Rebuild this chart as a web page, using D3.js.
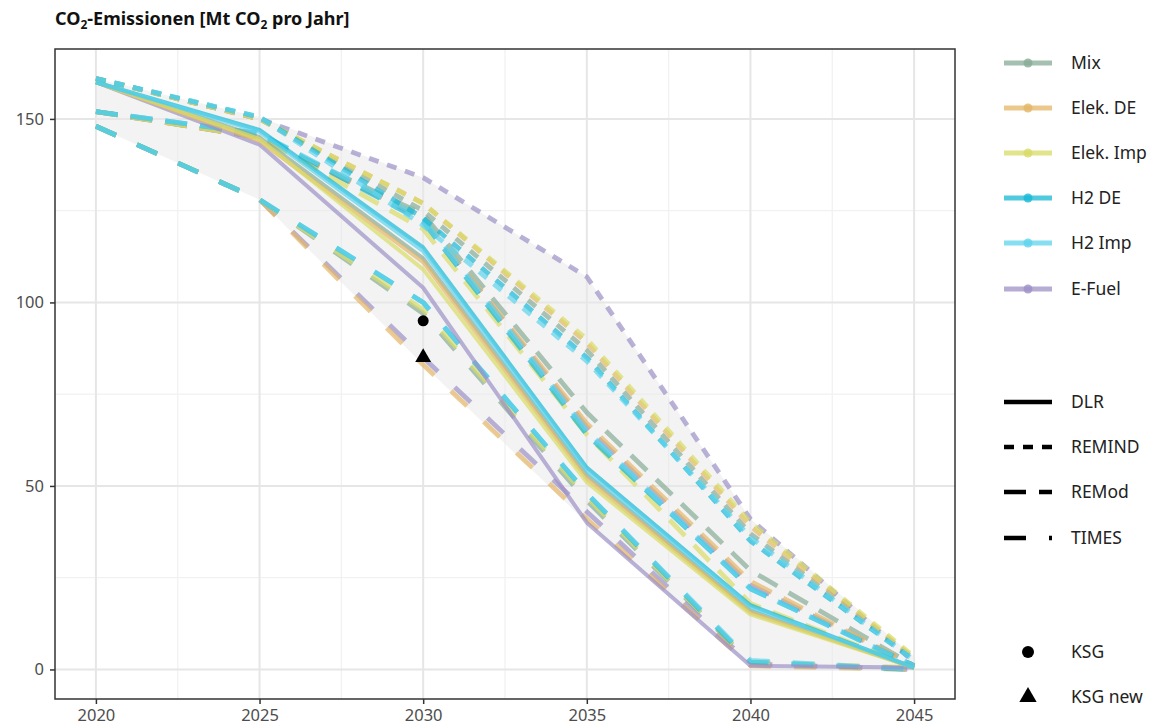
<!DOCTYPE html>
<html>
<head>
<meta charset="utf-8">
<script src="https://cdn.jsdelivr.net/npm/d3@7"></script>
<style>
  html, body { margin: 0; padding: 0; background: #fff; }
  svg { display: block; font-family: "Noto Sans", "Open Sans", sans-serif; }
</style>
</head>
<body>
<svg id="chart" width="1157" height="728"></svg>
<script>
// ---------------- data ----------------
const years = [2020, 2025, 2030, 2035, 2040, 2045];
const sectors = ["Mix", "Elek. DE", "Elek. Imp", "H2 DE", "H2 Imp", "E-Fuel"];
const sectorColors = ["#86ab96", "#e4b766", "#d8db66", "#17b8d6", "#5dd3ec", "#9d90c6"];
const models = ["DLR", "REMIND", "REMod", "TIMES"];
const modelDashes = [null, "10,9", "22,13", "22,23"];

// values per sector, order as in `sectors`
const dlrValues = [
  [160, 145, 112, 53, 16, 0.5],
  [160, 144, 111, 52, 15.5, 0.5],
  [160, 144.5, 109, 51, 15, 0.5],
  [160, 147, 115, 55, 17.5, 0.5],
  [160, 146.5, 114, 54, 17, 0.5],
  [160, 143, 104, 40, 1, 0.5]
];
const remindValues = [
  [161, 150, 125, 87, 37, 3],
  [161, 150, 127, 89, 39, 3],
  [161, 150, 127, 90, 40, 3.5],
  [161, 150.5, 123, 85, 35, 2.5],
  [161, 150.5, 121, 84, 36, 2.5],
  [161, 150, 134, 107, 41, 2]
];
const remodValues = [
  [152, 145, 124, 70, 27, 1],
  [152, 145, 123, 67, 24, 1],
  [152, 145, 120, 64, 18, 0.5],
  [152, 146, 122, 64, 22, 1],
  [152, 146, 123, 65, 22, 1],
  [152, 145, 123, 66, 23, 1]
];
const timesValues = [
  [148, 128, 97, 46, 2, 0],
  [148, 128, 83, 41, 1, 0],
  [148, 128, 98, 47, 2, 0.5],
  [148, 128, 100, 48, 2, 0],
  [148, 128, 100, 48, 2.5, 0],
  [148, 128, 85, 43, 1.5, 0]
];
const modelValues = [dlrValues, remindValues, remodValues, timesValues];

const ksgPoint = [2030, 95];
const ksgNewPoint = [2030, 85];

const xTicks = [2020, 2025, 2030, 2035, 2040, 2045];
const xMinor = [2022.5, 2027.5, 2032.5, 2037.5, 2042.5];
const yTicks = [0, 50, 100, 150];
const yMinor = [25, 75, 125];

// ---------------- layout ----------------
const svg = d3.select("#chart");
const panel = { left: 55, right: 955, top: 49, bottom: 699 };

const allVals = modelValues.flat(2);
const vMin = Math.min(0, d3.min(allVals)), vMax = d3.max(allVals);
const pad = (vMax - vMin) * 0.05;
const x = d3.scaleLinear().domain([2018.75, 2046.25]).range([panel.left, panel.right]);
const y = d3.scaleLinear().domain([vMin - pad, vMax + pad]).range([panel.bottom, panel.top]);

// title
const title = svg.append("text")
  .attr("x", 55).attr("y", 25)
  .attr("font-size", 18).attr("font-weight", "bold").attr("fill", "#111");
title.append("tspan").text("CO");
title.append("tspan").attr("font-size", 12).attr("dy", 4).text("2");
title.append("tspan").attr("dy", -4).text("-Emissionen [Mt CO");
title.append("tspan").attr("font-size", 12).attr("dy", 4).text("2");
title.append("tspan").attr("dy", -4).text(" pro Jahr]");

// grid
const g = svg.append("g");
g.selectAll(".ymin").data(yMinor).join("line")
  .attr("x1", panel.left).attr("x2", panel.right)
  .attr("y1", d => y(d)).attr("y2", d => y(d))
  .attr("stroke", "#f1f1f1").attr("stroke-width", 1.3);
g.selectAll(".xmin").data(xMinor).join("line")
  .attr("y1", panel.top).attr("y2", panel.bottom)
  .attr("x1", d => x(d)).attr("x2", d => x(d))
  .attr("stroke", "#f1f1f1").attr("stroke-width", 1.3);
g.selectAll(".ymaj").data(yTicks).join("line")
  .attr("x1", panel.left).attr("x2", panel.right)
  .attr("y1", d => y(d)).attr("y2", d => y(d))
  .attr("stroke", "#e6e6e6").attr("stroke-width", 2);
g.selectAll(".xmaj").data(xTicks).join("line")
  .attr("y1", panel.top).attr("y2", panel.bottom)
  .attr("x1", d => x(d)).attr("x2", d => x(d))
  .attr("stroke", "#e6e6e6").attr("stroke-width", 2);

// ribbon (envelope of all scenarios)
const envelope = years.map((yr, i) => {
  const vals = modelValues.flatMap(m => m.map(s => s[i]));
  return { yr, lo: d3.min(vals), hi: d3.max(vals) };
});
svg.append("path").datum(envelope)
  .attr("d", d3.area().x(d => x(d.yr)).y0(d => y(d.lo)).y1(d => y(d.hi)))
  .attr("fill", "#e8e8e8").attr("fill-opacity", 0.5);

// lines
const line = d3.line().x((d, i) => x(years[i])).y(d => y(d));
const drawOrder = [5, 0, 1, 2, 3, 4];
const drawModels = [3, 2, 1, 0];
drawModels.forEach(mi => {
  drawOrder.forEach(si => {
    svg.append("path").datum(modelValues[mi][si])
      .attr("d", line)
      .attr("fill", "none")
      .attr("stroke", sectorColors[si])
      .attr("stroke-opacity", 0.7)
      .attr("stroke-width", mi === 0 ? 4 : 4.8)
      .attr("stroke-linecap", "butt")
      .attr("stroke-linejoin", "round")
      .attr("stroke-dasharray", modelDashes[mi]);
  });
});

// KSG markers
svg.append("circle").attr("cx", x(ksgPoint[0])).attr("cy", y(ksgPoint[1])).attr("r", 5.5).attr("fill", "#000");
svg.append("path")
  .attr("transform", `translate(${x(ksgNewPoint[0])},${y(ksgNewPoint[1])})`)
  .attr("d", d3.symbol(d3.symbolTriangle, 110)()).attr("fill", "#000");

// panel border
svg.append("rect")
  .attr("x", panel.left).attr("y", panel.top)
  .attr("width", panel.right - panel.left).attr("height", panel.bottom - panel.top)
  .attr("fill", "none").attr("stroke", "#333").attr("stroke-width", 1.5);

// axes
const xAxis = svg.append("g").attr("transform", `translate(0,${panel.bottom})`)
  .call(d3.axisBottom(x).tickValues(xTicks).tickFormat(d3.format("d")).tickSize(5).tickPadding(5));
const yAxis = svg.append("g").attr("transform", `translate(${panel.left},0)`)
  .call(d3.axisLeft(y).tickValues(yTicks).tickSize(5).tickPadding(6));
[xAxis, yAxis].forEach(a => {
  a.select(".domain").remove();
  a.selectAll(".tick line").attr("stroke", "#333").attr("stroke-width", 1.5);
  a.selectAll(".tick text").attr("fill", "#4d4d4d").attr("font-size", 16.5)
    .attr("font-family", "Noto Sans, sans-serif");
});

// legends
const legX1 = 1004, legX2 = 1052, legText = 1071;
const colorLegY = [63, 108, 153, 198, 243, 289];
sectors.forEach((s, i) => {
  const gy = colorLegY[i];
  svg.append("line").attr("x1", legX1).attr("x2", legX2).attr("y1", gy).attr("y2", gy)
    .attr("stroke", sectorColors[i]).attr("stroke-opacity", 0.75).attr("stroke-width", 5);
  svg.append("circle").attr("cx", (legX1 + legX2) / 2).attr("cy", gy).attr("r", 4.5)
    .attr("fill", sectorColors[i]).attr("fill-opacity", 0.8);
  svg.append("text").attr("x", legText).attr("y", gy).attr("dy", "0.35em")
    .attr("font-size", 17.5).attr("fill", "#222").text(s);
});
const typeLegY = [402, 447, 492, 538];
models.forEach((m, i) => {
  const gy = typeLegY[i];
  svg.append("line").attr("x1", legX1).attr("x2", legX2).attr("y1", gy).attr("y2", gy)
    .attr("stroke", "#000").attr("stroke-width", 4.5)
    .attr("stroke-dasharray", modelDashes[i]);
  svg.append("text").attr("x", legText).attr("y", gy).attr("dy", "0.35em")
    .attr("font-size", 17.5).attr("fill", "#222").text(m);
});
const shapeLegY = [652, 697];
svg.append("circle").attr("cx", 1028).attr("cy", shapeLegY[0]).attr("r", 6).attr("fill", "#000");
svg.append("path").attr("transform", `translate(1028,${shapeLegY[1]})`)
  .attr("d", d3.symbol(d3.symbolTriangle, 130)()).attr("fill", "#000");
["KSG", "KSG new"].forEach((t, i) => {
  svg.append("text").attr("x", legText).attr("y", shapeLegY[i]).attr("dy", "0.35em")
    .attr("font-size", 17.5).attr("fill", "#222").text(t);
});
</script>
</body>
</html>
